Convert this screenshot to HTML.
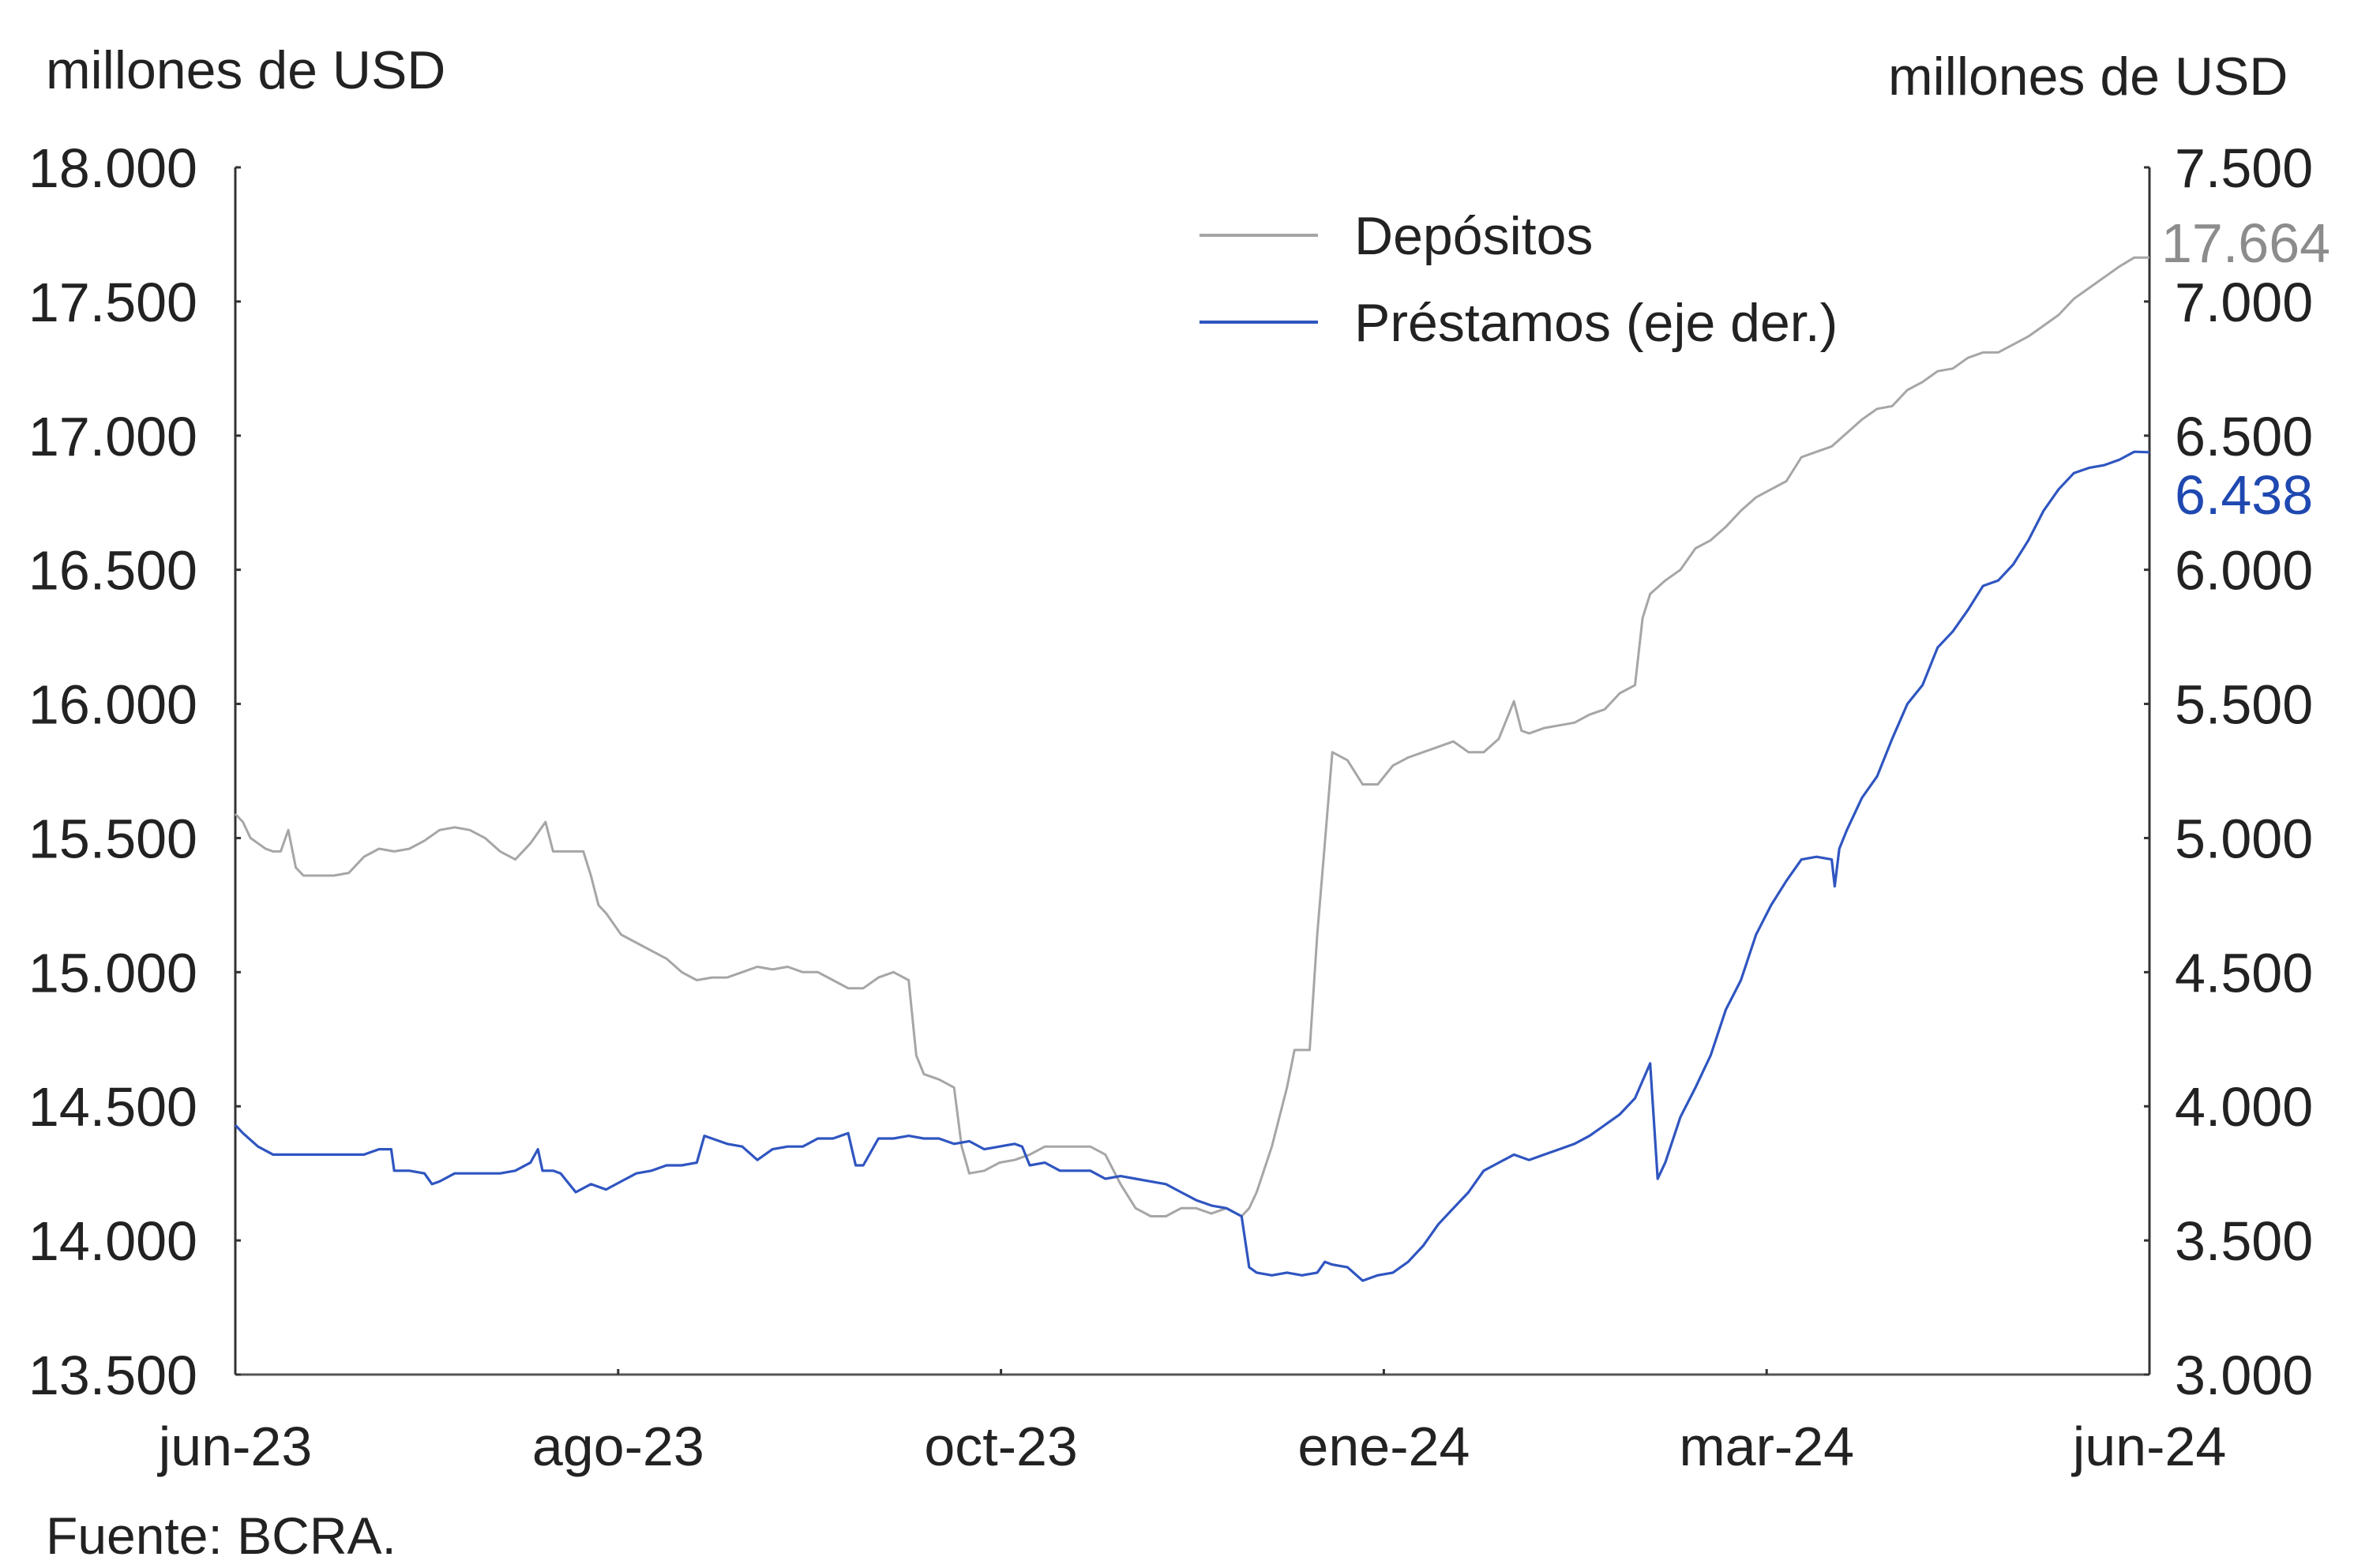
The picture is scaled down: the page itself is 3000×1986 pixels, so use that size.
<!DOCTYPE html>
<html><head><meta charset="utf-8"><style>
html,body{margin:0;padding:0;background:#fff;}
svg{display:block;font-family:"Liberation Sans",sans-serif;}
</style></head><body>
<svg id="chart" width="3000" height="1986" viewBox="0 0 3000 1986" xmlns="http://www.w3.org/2000/svg">
<text x="58" y="112" font-size="68" fill="#222">millones de USD</text>
<text x="2391" y="120" font-size="68" fill="#222">millones de USD</text>
<text x="58" y="1968" font-size="66" fill="#222">Fuente: BCRA.</text>
<g id="axes"></g>
<g id="series"></g>
<g>
<line x1="1519" y1="298" x2="1669" y2="298" stroke="#a6a6a6" stroke-width="4"/>
<text x="1715" y="322" font-size="68" fill="#222">Depósitos</text>
<line x1="1519" y1="408" x2="1669" y2="408" stroke="#2f55c0" stroke-width="4"/>
<text x="1715" y="432" font-size="68" fill="#222">Préstamos (eje der.)</text>
</g>
</svg>
<script>
const xDomain=[0,1265];
const xTickLabels=["jun-23","ago-23","oct-23","ene-24","mar-24","jun-24"];
const leftTicks=[13500,14000,14500,15000,15500,16000,16500,17000,17500,18000];
const rightTicks=[3000,3500,4000,4500,5000,5500,6000,6500,7000,7500];
const depT=[0,5,10,15,20,25,30,35,40,45,55,65,75,85,95,105,115,125,135,145,155,165,175,185,195,205,210,220,230,235,240,245,255,265,275,285,295,305,315,325,335,345,355,365,375,385,395,405,415,425,435,445,450,455,465,475,480,485,495,505,515,525,535,545,555,565,575,585,595,605,615,625,635,645,655,665,670,675,685,695,700,710,715,720,725,735,745,755,765,775,785,795,805,815,825,835,845,850,855,865,875,885,895,905,915,925,930,935,945,955,965,975,985,995,1005,1015,1025,1035,1045,1055,1065,1075,1085,1095,1105,1115,1125,1135,1145,1155,1165,1175,1185,1195,1205,1215,1225,1235,1245,1255,1265];
const depV=[15590,15560,15500,15480,15460,15450,15450,15530,15390,15360,15360,15360,15370,15430,15460,15450,15460,15490,15530,15540,15530,15500,15450,15420,15480,15560,15450,15450,15450,15360,15250,15220,15140,15110,15080,15050,15000,14970,14980,14980,15000,15020,15010,15020,15000,15000,14970,14940,14940,14980,15000,14970,14690,14620,14600,14570,14350,14250,14260,14290,14300,14320,14350,14350,14350,14350,14320,14210,14120,14090,14090,14120,14120,14100,14120,14090,14120,14180,14350,14570,14710,14710,15140,15480,15820,15790,15700,15700,15770,15800,15820,15840,15860,15820,15820,15870,16010,15900,15890,15910,15920,15930,15960,15980,16040,16070,16320,16410,16460,16500,16580,16610,16660,16720,16770,16800,16830,16920,16940,16960,17010,17060,17100,17110,17170,17200,17240,17250,17290,17310,17310,17340,17370,17410,17450,17510,17550,17590,17630,17664,17664];
const preT=[0,5,15,25,35,45,55,65,75,85,95,103,105,115,125,130,135,145,155,165,175,185,195,200,203,210,215,225,235,245,255,265,275,285,295,305,310,315,325,335,345,355,365,375,385,395,405,410,415,425,435,445,455,465,475,485,495,505,515,520,525,535,545,555,565,575,585,595,605,615,625,635,645,655,665,670,675,685,695,705,715,720,725,735,745,755,765,775,785,795,805,815,825,835,845,855,865,875,885,895,905,915,925,935,940,945,955,965,975,985,995,1005,1015,1025,1035,1045,1055,1057,1060,1065,1075,1085,1095,1105,1115,1125,1135,1145,1155,1165,1175,1185,1195,1205,1215,1225,1235,1245,1255,1265];
const preV=[3930,3900,3850,3820,3820,3820,3820,3820,3820,3820,3840,3840,3760,3760,3750,3710,3720,3750,3750,3750,3750,3760,3790,3840,3760,3760,3750,3680,3710,3690,3720,3750,3760,3780,3780,3790,3890,3880,3860,3850,3800,3840,3850,3850,3880,3880,3900,3780,3780,3880,3880,3890,3880,3880,3860,3870,3840,3850,3860,3850,3780,3790,3760,3760,3760,3730,3740,3730,3720,3710,3680,3650,3630,3620,3590,3400,3380,3370,3380,3370,3380,3420,3410,3400,3350,3370,3380,3420,3480,3560,3620,3680,3760,3790,3820,3800,3820,3840,3860,3890,3930,3970,4030,4160,3730,3790,3960,4070,4190,4360,4470,4640,4750,4840,4920,4930,4920,4820,4960,5030,5150,5230,5370,5500,5570,5710,5770,5850,5940,5960,6020,6110,6220,6300,6360,6380,6390,6410,6440,6438];
const depLast="17.664", preLast="6.438";

const NS="http://www.w3.org/2000/svg";
const X0=298,X1=2722,Y0=212,Y1=1741;
const xs=t=>X0+(t-xDomain[0])/(xDomain[1]-xDomain[0])*(X1-X0);
const yl=v=>Y1-(v-13500)/4500*(Y1-Y0);
const yr=v=>Y1-(v-3000)/4500*(Y1-Y0);
const fmt=v=>String(v).replace(/\B(?=(\d{3})+(?!\d))/g,".");
function mk(tag,attrs,parent){const e=document.createElementNS(NS,tag);for(const k in attrs)e.setAttribute(k,attrs[k]);parent.appendChild(e);return e;}
const axes=document.getElementById('axes'), ser=document.getElementById('series');

let e=mk('line',{x1:X0,y1:Y0,x2:X0,y2:Y1,stroke:'#333','stroke-width':3},axes);


e=mk('line',{x1:X1,y1:Y0,x2:X1,y2:Y1,stroke:'#333','stroke-width':3},axes);


e=mk('line',{x1:X0,y1:Y1,x2:X1,y2:Y1,stroke:'#555','stroke-width':3},axes);



leftTicks.forEach(v=>{const y=yl(v);
  let t=mk('line',{x1:X0,y1:y,x2:X0+7,y2:y,stroke:'#333','stroke-width':3},axes);
  
  
  let l=mk('text',{x:X0-48,y:y+25,'font-size':70,'text-anchor':'end',fill:'#222'},axes);l.textContent=fmt(v);
  
  
});
rightTicks.forEach(v=>{const y=yr(v);
  let t=mk('line',{x1:X1-7,y1:y,x2:X1,y2:y,stroke:'#333','stroke-width':3},axes);
  
  
  let l=mk('text',{x:X1+32,y:y+25,'font-size':70,fill:'#222'},axes);l.textContent=fmt(v);
  
  
});
xTickLabels.forEach((s,i)=>{const x=X0+i*(X1-X0)/(xTickLabels.length-1);
  let t=mk('line',{x1:x,y1:Y1-7,x2:x,y2:Y1,stroke:'#333','stroke-width':3},axes);
  
  
  let l=mk('text',{x:x,y:1856,'font-size':70,'text-anchor':'middle',fill:'#222'},axes);l.textContent=s;
  
  
});

function path(T,V,ys){return T.map((t,i)=>(i?'L':'M')+xs(t).toFixed(1)+','+ys(V[i]).toFixed(1)).join('');}
let p=mk('path',{d:path(depT,depV,yl),fill:'none',stroke:'#a6a6a6','stroke-width':3,'stroke-linejoin':'round'},ser);


p=mk('path',{d:path(preT,preV,yr),fill:'none',stroke:'#2f55c0','stroke-width':3.2,'stroke-linejoin':'round'},ser);



let lab=mk('text',{x:X1+15,y:yl(depV[depV.length-1])+6,'font-size':70,fill:'#8c8c8c'},ser);lab.textContent=depLast;


lab=mk('text',{x:X1+32,y:yr(preV[preV.length-1])+78,'font-size':70,fill:'#1f48b0'},ser);lab.textContent=preLast;


</script>
</body></html>
